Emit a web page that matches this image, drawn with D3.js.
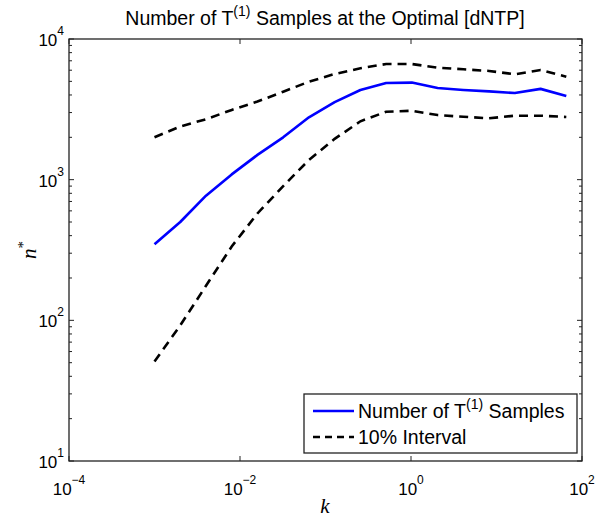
<!DOCTYPE html>
<html>
<head>
<meta charset="utf-8">
<script src="https://cdn.jsdelivr.net/npm/d3@7"></script>
<style>
  html, body { margin: 0; padding: 0; background: #fff; }
  svg { display: block; font-family: "Liberation Sans", Arial, Helvetica, sans-serif; }
</style>
</head>
<body>
<svg id="chart" width="597" height="521"></svg>
<script>
// k values (doubling from 1e-3)
const kValues = [0.001, 0.002, 0.004, 0.008, 0.016, 0.032, 0.064, 0.128, 0.256, 0.512,
                 1.024, 2.048, 4.096, 8.192, 16.384, 32.768, 65.536];
// optimal number of T(1) samples
const nSamples = [347, 500, 770, 1090, 1500, 2000, 2775, 3560, 4340, 4870,
                  4900, 4480, 4340, 4240, 4130, 4420, 3940];
// 10% interval, upper bound
const upperBound = [2000, 2390, 2690, 3130, 3590, 4220, 4970, 5640, 6190, 6640,
                    6640, 6250, 6090, 5930, 5610, 6020, 5400];
// 10% interval, lower bound
const lowerBound = [51, 92, 176, 335, 575, 900, 1380, 1950, 2600, 3040,
                    3090, 2880, 2800, 2730, 2850, 2850, 2790];

const xTickExps = [-4, -2, 0, 2];
const yTickExps = [1, 2, 3, 4];

(function () {
const svg = d3.select("#chart");
const mLeft = 69, mRight = 582, mTop = 39, mBottom = 461;

const x = d3.scaleLog().domain([1e-4, 1e2]).range([mLeft, mRight]);
const y = d3.scaleLog().domain([10, 1e4]).range([mBottom, mTop]);

// minor y ticks (2..9 per decade)
const yMinor = [];
for (let e = 1; e < 4; e++) for (let m = 2; m <= 9; m++) yMinor.push(m * Math.pow(10, e));
const xMajor = xTickExps.map(e => Math.pow(10, e));
const yMajor = yTickExps.map(e => Math.pow(10, e));

const axisG = svg.append("g").attr("stroke", "#222").attr("stroke-width", 1);

// tick marks drawn inward on all four sides
function tickLines(g, vals, len, horizontal) {
  vals.forEach(v => {
    if (horizontal) {
      const px = x(v);
      g.append("line").attr("x1", px).attr("x2", px).attr("y1", mBottom).attr("y2", mBottom - len);
      g.append("line").attr("x1", px).attr("x2", px).attr("y1", mTop).attr("y2", mTop + len);
    } else {
      const py = y(v);
      g.append("line").attr("x1", mLeft).attr("x2", mLeft + len).attr("y1", py).attr("y2", py);
      g.append("line").attr("x1", mRight).attr("x2", mRight - len).attr("y1", py).attr("y2", py);
    }
  });
}
tickLines(axisG, xMajor, 5, true);
tickLines(axisG, yMajor, 5, false);
tickLines(axisG, yMinor, 3, false);

// series
const line = d3.line().x(d => x(d[0])).y(d => y(d[1]));
const zip = vals => kValues.map((k, i) => [k, vals[i]]);

const plot = svg.append("g");
plot.append("path").datum(zip(upperBound)).attr("d", line)
  .attr("fill", "none").attr("stroke", "#000").attr("stroke-width", 2.6)
  .attr("stroke-dasharray", "9,6");
plot.append("path").datum(zip(lowerBound)).attr("d", line)
  .attr("fill", "none").attr("stroke", "#000").attr("stroke-width", 2.6)
  .attr("stroke-dasharray", "9,6");
plot.append("path").datum(zip(nSamples)).attr("d", line)
  .attr("fill", "none").attr("stroke", "#0000ff").attr("stroke-width", 2.6)
  .attr("stroke-linejoin", "round");

// axes box
svg.append("rect").attr("x", mLeft).attr("y", mTop)
  .attr("width", mRight - mLeft).attr("height", mBottom - mTop)
  .attr("fill", "none").attr("stroke", "#222").attr("stroke-width", 1.3);

// tick labels with superscript exponents
function powerLabel(g, exp) {
  const t = g.append("text").attr("fill", "#000").attr("font-size", 17);
  t.append("tspan").text("10");
  t.append("tspan").attr("dy", -11).attr("font-size", 12).text(exp < 0 ? "\u2212" + (-exp) : String(exp));
  return t;
}
xTickExps.forEach(e => {
  const g = svg.append("g");
  const t = powerLabel(g, e);
  const w = t.node().getComputedTextLength();
  t.attr("x", x(Math.pow(10, e)) - w / 2).attr("y", 495);
});
yTickExps.forEach(e => {
  const g = svg.append("g");
  const t = powerLabel(g, e);
  const w = t.node().getComputedTextLength();
  t.attr("x", 64 - w).attr("y", y(Math.pow(10, e)) + 7);
});

// title
const title = svg.append("text").attr("x", 325).attr("y", 25)
  .attr("text-anchor", "middle").attr("font-size", 19.5).attr("fill", "#000");
title.append("tspan").text("Number of T");
title.append("tspan").attr("dy", -9).attr("font-size", 14).text("(1)");
title.append("tspan").attr("dy", 9).text(" Samples at the Optimal [dNTP]");

// axis labels
svg.append("text").attr("x", 325).attr("y", 513).attr("text-anchor", "middle")
  .attr("font-family", "'Liberation Serif', 'DejaVu Serif', serif").attr("font-style", "italic")
  .attr("font-size", 21).attr("fill", "#000").text("k");
const yl = svg.append("text").attr("transform", "translate(36,250) rotate(-90)")
  .attr("text-anchor", "middle").attr("fill", "#000")
  .attr("font-family", "'Liberation Serif', 'DejaVu Serif', serif").attr("font-size", 21);
yl.append("tspan").attr("font-style", "italic").text("n");
yl.append("tspan").attr("dy", -8).attr("font-size", 15).text("*");

// legend
const lg = svg.append("g");
lg.append("rect").attr("x", 304).attr("y", 394).attr("width", 273).attr("height", 59)
  .attr("fill", "#fff").attr("stroke", "#222").attr("stroke-width", 1.3);
lg.append("line").attr("x1", 313).attr("x2", 354).attr("y1", 411).attr("y2", 411)
  .attr("stroke", "#0000ff").attr("stroke-width", 2.6);
lg.append("line").attr("x1", 313).attr("x2", 354).attr("y1", 437).attr("y2", 437)
  .attr("stroke", "#000").attr("stroke-width", 2.6).attr("stroke-dasharray", "7,5");
const l1 = lg.append("text").attr("x", 358).attr("y", 418).attr("font-size", 19.5).attr("fill", "#000");
l1.append("tspan").text("Number of T");
l1.append("tspan").attr("dy", -9).attr("font-size", 14).text("(1)");
l1.append("tspan").attr("dy", 9).text(" Samples");
lg.append("text").attr("x", 358).attr("y", 444).attr("font-size", 19.5).attr("fill", "#000").text("10% Interval");
})();
</script>
</body>
</html>
